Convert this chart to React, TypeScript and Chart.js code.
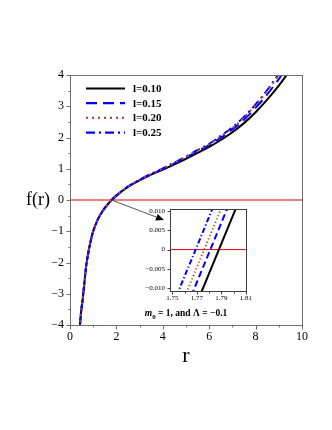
import React, { useEffect, useRef } from 'react';
import { Chart, registerables } from 'chart.js';
Chart.register(...registerables);

// ---- main plot data ----
const rValues = [0.42, 0.45, 0.5, 0.55, 0.6, 0.7, 0.8, 0.9, 1.0, 1.2, 1.4, 1.6, 1.8, 2.0, 2.5, 3.0, 3.5, 4.0, 4.5, 5.0, 5.5, 6.0, 6.5, 7.0, 7.5, 8.0, 8.5, 9.0, 9.5];
const fL010 = [-4.1, -3.8, -3.45, -3.15, -2.8, -2.1, -1.65, -1.28, -1.0, -0.62, -0.36, -0.16, 0.0, 0.14, 0.42, 0.63, 0.81, 0.97, 1.14, 1.32, 1.51, 1.70, 1.92, 2.17, 2.46, 2.81, 3.21, 3.66, 4.17];
const fL015 = [-4.1, -3.8, -3.45, -3.15, -2.8, -2.1, -1.65, -1.28, -1.0, -0.62, -0.36, -0.16, 0.0, 0.14, 0.43, 0.64, 0.82, 0.99, 1.17, 1.36, 1.56, 1.76, 1.99, 2.26, 2.57, 2.95, 3.38, 3.87, 4.42];
const fL020 = [-4.1, -3.8, -3.45, -3.15, -2.8, -2.1, -1.65, -1.28, -1.0, -0.62, -0.36, -0.16, 0.01, 0.15, 0.43, 0.65, 0.83, 1.01, 1.19, 1.38, 1.59, 1.79, 2.04, 2.31, 2.64, 3.04, 3.49, 4.0, 4.57];
const fL025 = [-4.1, -3.8, -3.45, -3.15, -2.8, -2.1, -1.65, -1.28, -1.0, -0.62, -0.36, -0.16, 0.01, 0.15, 0.43, 0.65, 0.84, 1.01, 1.20, 1.39, 1.60, 1.80, 2.05, 2.33, 2.66, 3.06, 3.52, 4.04, 4.62];
const seriesLabels = ['l=0.10', 'l=0.15', 'l=0.20', 'l=0.25'];

const zeroLineR = [0, 10];
const zeroLineF = [0, 0];

const mainXTicks = [0, 2, 4, 6, 8, 10];
const mainXMinor = [1, 3, 5, 7, 9];
const mainYTicks = [-4, -3, -2, -1, 0, 1, 2, 3, 4];
const mainYMinor = [-3.5, -2.5, -1.5, -0.5, 0.5, 1.5, 2.5, 3.5];

// ---- inset (zoom near the root) data ----
const insetF = [-0.012, 0.012];
const insetR010 = [1.7724, 1.8036];
const insetR015 = [1.7654, 1.7966];
const insetR020 = [1.7604, 1.7916];
const insetR025 = [1.7534, 1.7846];
const insetZeroR = [1.74, 1.82];
const insetXTicks = [1.75, 1.77, 1.79, 1.81];
const insetXMinor = [1.76, 1.78, 1.8];
const insetYTicks = [-0.01, -0.005, 0, 0.005, 0.01];

// arrow from root in main plot towards the inset (data coords)
const arrowFrom = [1.79, 0];
const arrowTo = [4.05, -0.64];
const notePos = [5.0, -3.72];

const colors = ['#000000', '#0000ff', '#b84a2a', '#0000ff'];
const dashes = [[], [11, 6], [2, 4], [9, 4, 2, 4]];
const orders = [4, 3, 1, 2];

const SERIF = '"Liberation Serif", "Times New Roman", serif';
const MINUS = '\u2212';

function fmtNum(v: number, digits: number) {
  if (Math.abs(v) < 1e-12) return '0';
  const s = Math.abs(v).toFixed(digits);
  return (v < 0 ? MINUS : '') + s;
}

function pts(xs: number[], ys: number[]) {
  return xs.map((x, i) => ({ x, y: ys[i] }));
}

function drawBoxAndTicks(chart: any, xMaj: number[], xMin: number[], yMaj: number[], yMin: number[], majLen: number, minLen: number, color: string) {
  const { ctx, chartArea: a, scales } = chart;
  ctx.save();
  ctx.strokeStyle = color;
  ctx.lineWidth = 1;
  ctx.strokeRect(Math.round(a.left) + 0.5, Math.round(a.top) + 0.5, Math.round(a.right - a.left), Math.round(a.bottom - a.top));
  ctx.beginPath();
  const bx = Math.round(a.left) + 0.5;
  const by = Math.round(a.bottom) + 0.5;
  xMaj.forEach((v) => { const p = Math.round(scales.x.getPixelForValue(v)) + 0.5; ctx.moveTo(p, by); ctx.lineTo(p, by + majLen); });
  xMin.forEach((v) => { const p = Math.round(scales.x.getPixelForValue(v)) + 0.5; ctx.moveTo(p, by); ctx.lineTo(p, by + minLen); });
  yMaj.forEach((v) => { const p = Math.round(scales.y.getPixelForValue(v)) + 0.5; ctx.moveTo(bx, p); ctx.lineTo(bx - majLen, p); });
  yMin.forEach((v) => { const p = Math.round(scales.y.getPixelForValue(v)) + 0.5; ctx.moveTo(bx, p); ctx.lineTo(bx - minLen, p); });
  ctx.stroke();
  ctx.restore();
}

export default function App() {
  const mainRef = useRef<HTMLCanvasElement>(null);
  const insetRef = useRef<HTMLCanvasElement>(null);

  useEffect(() => {
    const seriesF = [fL010, fL015, fL020, fL025];
    const mainDatasets: any[] = seriesF.map((f, i) => ({
      label: seriesLabels[i],
      data: pts(rValues, f),
      borderColor: colors[i],
      borderWidth: 2,
      borderDash: dashes[i],
      pointRadius: 0,
      fill: false,
      cubicInterpolationMode: 'monotone',
      order: orders[i],
    }));
    mainDatasets.push({
      label: 'zero',
      data: pts(zeroLineR, zeroLineF),
      borderColor: '#e00000',
      borderWidth: 1,
      pointRadius: 0,
      fill: false,
      order: 10,
    });

    const mainPlugin = {
      id: 'mainDecor',
      afterDraw(chart: any) {
        const { ctx, chartArea: a, scales } = chart;
        drawBoxAndTicks(chart, mainXTicks, mainXMinor, mainYTicks, mainYMinor, 4, 2, '#707070');
        ctx.save();
        // legend
        const lx0 = a.left + 16, lx1 = a.left + 55, ly0 = a.top + 13.5, dy = 14.7;
        seriesLabels.forEach((lab, i) => {
          const y = ly0 + i * dy;
          ctx.beginPath();
          ctx.setLineDash(dashes[i]);
          ctx.strokeStyle = colors[i];
          ctx.lineWidth = 2.2;
          ctx.moveTo(lx0, y);
          ctx.lineTo(lx1, y);
          ctx.stroke();
          ctx.setLineDash([]);
          ctx.fillStyle = '#000';
          ctx.font = 'bold 11px ' + SERIF;
          ctx.textAlign = 'left';
          ctx.textBaseline = 'middle';
          ctx.fillText(lab, lx1 + 8, y + 0.5);
        });
        // arrow
        const x0 = scales.x.getPixelForValue(arrowFrom[0]);
        const y0 = scales.y.getPixelForValue(arrowFrom[1]);
        const x1 = scales.x.getPixelForValue(arrowTo[0]);
        const y1 = scales.y.getPixelForValue(arrowTo[1]);
        const ang = Math.atan2(y1 - y0, x1 - x0);
        const hl = 8, hw = 3.5;
        const bxp = x1 - hl * Math.cos(ang), byp = y1 - hl * Math.sin(ang);
        ctx.beginPath();
        ctx.strokeStyle = '#555';
        ctx.lineWidth = 1;
        ctx.moveTo(x0, y0);
        ctx.lineTo(bxp, byp);
        ctx.stroke();
        ctx.beginPath();
        ctx.fillStyle = '#000';
        ctx.moveTo(x1, y1);
        ctx.lineTo(bxp + hw * Math.sin(ang), byp - hw * Math.cos(ang));
        ctx.lineTo(bxp - hw * Math.sin(ang), byp + hw * Math.cos(ang));
        ctx.closePath();
        ctx.fill();
        // note text: m0 = 1, and Λ = −0.1
        const nx = scales.x.getPixelForValue(notePos[0]);
        const ny = scales.y.getPixelForValue(notePos[1]);
        const fMain = 'bold 9.5px ' + SERIF;
        const fIt = 'italic bold 9.5px ' + SERIF;
        const fSub = 'bold 7px ' + SERIF;
        const rest = ' = 1, and \u039B = ' + MINUS + '0.1';
        ctx.font = fIt; const wM = ctx.measureText('m').width;
        ctx.font = fSub; const wS = ctx.measureText('0').width;
        ctx.font = fMain; const wR = ctx.measureText(rest).width;
        let cx = nx - (wM + wS + wR) / 2;
        ctx.textAlign = 'left';
        ctx.textBaseline = 'alphabetic';
        ctx.font = fIt; ctx.fillText('m', cx, ny); cx += wM;
        ctx.font = fSub; ctx.fillText('0', cx, ny + 2.5); cx += wS;
        ctx.font = fMain; ctx.fillText(rest, cx, ny);
        // axis titles
        ctx.font = '18px ' + SERIF;
        ctx.textAlign = 'center';
        ctx.textBaseline = 'middle';
        ctx.fillText('f(r)', a.left - 32, scales.y.getPixelForValue(0));
        ctx.font = '22px ' + SERIF;
        ctx.fillText('r', (a.left + a.right) / 2, a.bottom + 31);
        ctx.restore();
      },
    };

    const main = new Chart(mainRef.current!, {
      type: 'line',
      data: { datasets: mainDatasets },
      options: {
        animation: false,
        responsive: false,
        devicePixelRatio: 1,
        layout: { padding: { left: 30, right: 30, top: 75, bottom: 85 } },
        plugins: { legend: { display: false }, tooltip: { enabled: false } },
        scales: {
          x: {
            type: 'linear', min: 0, max: 10,
            grid: { display: false, drawTicks: false },
            border: { display: false },
            afterFit: (s: any) => { s.height = 20; },
            afterBuildTicks: (s: any) => { s.ticks = mainXTicks.map((v) => ({ value: v })); },
            ticks: { padding: 5, color: '#000', font: { family: SERIF, size: 12 }, maxRotation: 0, autoSkip: false, callback: (v: any) => fmtNum(Number(v), 0) },
          },
          y: {
            type: 'linear', min: -4, max: 4,
            grid: { display: false, drawTicks: false },
            border: { display: false },
            afterFit: (s: any) => { s.width = 40; },
            afterBuildTicks: (s: any) => { s.ticks = mainYTicks.map((v) => ({ value: v })); },
            ticks: { padding: 6, color: '#000', font: { family: SERIF, size: 12 }, autoSkip: false, callback: (v: any) => fmtNum(Number(v), 0) },
          },
        },
      } as any,
      plugins: [mainPlugin],
    });

    const insetR = [insetR010, insetR015, insetR020, insetR025];
    const insetDatasets: any[] = insetR.map((r, i) => ({
      label: seriesLabels[i],
      data: pts(r, insetF),
      borderColor: colors[i],
      borderWidth: 2,
      borderDash: dashes[i].map((d) => d * 0.6),
      pointRadius: 0,
      fill: false,
      order: orders[i],
    }));
    insetDatasets.push({
      label: 'zero',
      data: pts(insetZeroR, [0, 0]),
      borderColor: '#e00000',
      borderWidth: 1,
      pointRadius: 0,
      fill: false,
      order: 10,
    });

    const insetPlugin = {
      id: 'insetDecor',
      beforeDraw(chart: any) {
        const { ctx, chartArea: a } = chart;
        ctx.save();
        ctx.fillStyle = '#fff';
        ctx.fillRect(a.left, a.top, a.right - a.left, a.bottom - a.top);
        ctx.restore();
      },
      afterDraw(chart: any) {
        drawBoxAndTicks(chart, insetXTicks, insetXMinor, insetYTicks, [], 3, 2, '#404040');
      },
    };

    const inset = new Chart(insetRef.current!, {
      type: 'line',
      data: { datasets: insetDatasets },
      options: {
        animation: false,
        responsive: false,
        devicePixelRatio: 1,
        layout: { padding: { left: 10, right: 9, top: 9, bottom: 2 } },
        plugins: { legend: { display: false }, tooltip: { enabled: false } },
        scales: {
          x: {
            type: 'linear', min: 1.7481, max: 1.81,
            grid: { display: false, drawTicks: false },
            border: { display: false },
            afterFit: (s: any) => { s.height = 13; },
            afterBuildTicks: (s: any) => { s.ticks = insetXTicks.map((v) => ({ value: v })); },
            ticks: { padding: 3, color: '#000', font: { family: SERIF, size: 7 }, maxRotation: 0, autoSkip: false, callback: (v: any) => Number(v).toFixed(2) },
          },
          y: {
            type: 'linear', min: -0.0107, max: 0.01044,
            grid: { display: false, drawTicks: false },
            border: { display: false },
            afterFit: (s: any) => { s.width = 40; },
            afterBuildTicks: (s: any) => { s.ticks = insetYTicks.map((v) => ({ value: v })); },
            ticks: { padding: 5, color: '#000', font: { family: SERIF, size: 7 }, autoSkip: false, callback: (v: any) => fmtNum(Number(v), 3) },
          },
        },
      } as any,
      plugins: [insetPlugin],
    });

    return () => { main.destroy(); inset.destroy(); };
  }, []);

  return (
    <div style={{ position: 'absolute', left: 0, top: 0, width: 332, height: 430, background: '#fff' }}>
      <canvas ref={mainRef} width={332} height={430} style={{ position: 'absolute', left: 0, top: 0, width: 332, height: 430 }} />
      <canvas ref={insetRef} width={135} height={106} style={{ position: 'absolute', left: 120, top: 200, width: 135, height: 106 }} />
    </div>
  );
}
